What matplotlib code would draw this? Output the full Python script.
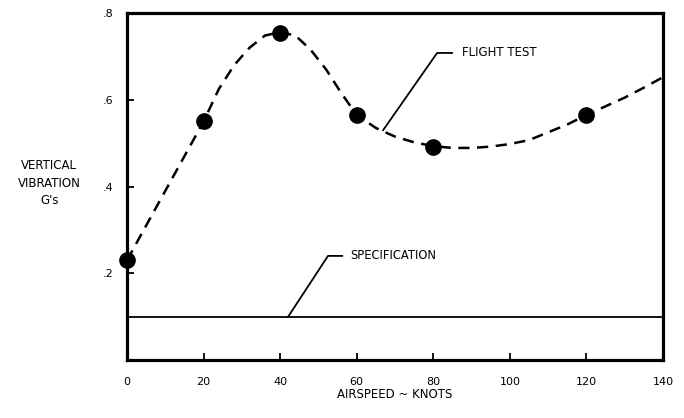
import matplotlib
matplotlib.use("Agg")
import matplotlib.pyplot as plt

# flight test points (airspeed in knots, vertical vibration in g)
test_speed = [0, 20, 40, 60, 80, 120]
test_vib = [0.23, 0.55, 0.755, 0.565, 0.49, 0.565]

# faired curve
curve_speed = [0, 5, 10, 15, 20, 24, 28, 32, 36, 40, 44, 48, 52, 56, 60,
               65, 70, 75, 80, 85, 90, 95, 100, 105, 110, 115, 120, 125,
               130, 135, 140]
curve_vib = [0.23, 0.31, 0.39, 0.47, 0.55, 0.625, 0.68, 0.72, 0.748, 0.756,
             0.748, 0.715, 0.67, 0.615, 0.565, 0.535, 0.515, 0.502, 0.493,
             0.489, 0.489, 0.492, 0.498, 0.507, 0.525, 0.543, 0.565, 0.585,
             0.605, 0.628, 0.652]

spec_level = 0.1

x_ticks = [0, 20, 40, 60, 80, 100, 120, 140]
x_labels = ["0", "20", "40", "60", "80", "100", "120", "140"]
y_ticks = [0.2, 0.4, 0.6, 0.8]
y_labels = [".2", ".4", ".6", ".8"]

plt.rcParams["font.family"] = "DejaVu Sans"

fig = plt.figure(figsize=(6.84, 4.18), dpi=100)
ax = fig.add_axes([0.1857, 0.1388, 0.7836, 0.830])

ax.plot(curve_speed, curve_vib, color="black", lw=1.8, ls=(0, (4.5, 3)))
ax.plot(test_speed, test_vib, "o", color="black", ms=11, clip_on=False)
ax.axhline(spec_level, color="black", lw=1.3)

# leader lines and notes
ax.plot([66.9, 81.0, 84.9], [0.53, 0.708, 0.708], color="black", lw=1.3)
ax.text(87.5, 0.708, "FLIGHT TEST", fontsize=8.5, va="center", ha="left")
ax.plot([42.1, 52.5, 56.2], [spec_level, 0.24, 0.24], color="black", lw=1.3)
ax.text(58.2, 0.24, "SPECIFICATION", fontsize=8.3, va="center", ha="left")

ax.set_xlim(0, 140)
ax.set_ylim(0, 0.8)
ax.set_xticks(x_ticks)
ax.set_xticklabels(x_labels, fontsize=8)
ax.set_yticks(y_ticks)
ax.set_yticklabels(y_labels, fontsize=8)
ax.tick_params(axis="x", direction="in", length=5, width=1.3, pad=12)
ax.tick_params(axis="y", direction="in", length=5, width=1.3, pad=10)
for s in ax.spines.values():
    s.set_linewidth(2.3)

ax.set_xlabel("AIRSPEED ~ KNOTS", fontsize=8.5, labelpad=1)
fig.text(0.072, 0.562, "VERTICAL\nVIBRATION\nG's", fontsize=8.5,
         ha="center", va="center", linespacing=1.45)

fig.savefig("out.png", dpi=100)
